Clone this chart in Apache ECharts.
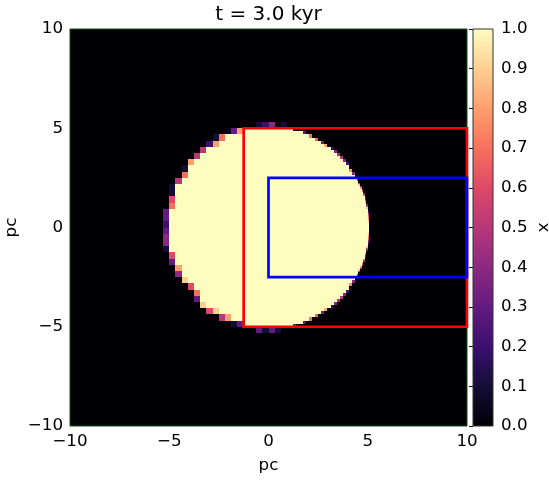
<!DOCTYPE html>
<html><head><meta charset="utf-8">
<script src="https://cdn.jsdelivr.net/npm/echarts@6/dist/echarts.min.js"></script>
<style>html,body{margin:0;padding:0;background:#fff}#c{width:549px;height:480px}</style>
</head><body><div id="c"></div>
<script>
// ---------- data ----------
const titleText = 't = 3.0 kyr';
const xName = 'pc', yName = 'pc', cbName = 'x';
const domain = [-10, 10];
const axisInterval = 5;
const cbInterval = 0.1;
const coarseCells = 64;                 // level-0 cells per side
const level1Box = [-1.25, 10, -5, 5];   // refined x2 (red box)
const level2Box = [0, 10, -2.5, 2.5];   // refined x4 (blue box)

// level-0 cells: one string per row (row 0 at y=+10), first char = column coarseFirstCol
// '.'=0, '0'=0.04, '1'..'9'=0.1..0.9, '#'=1
const coarseFirstRow = 15, coarseFirstCol = 15;
const coarseRows = [
  "...............12401",
  "..........038",
  "........17###",
  ".......28####",
  "......5######",
  ".....5#######",
  "....8########",
  "...1#########",
  "...7#########",
  "..5##########",
  ".1###########",
  ".1###########",
  ".6###########",
  ".7###########",
  "3############",
  "3############",
  "2############",
  "3############",
  "4############",
  "4############",
  "1############",
  ".6###########",
  ".3###########",
  "..8##########",
  "..4##########",
  "...9#########",
  "....6########",
  ".....7#######",
  ".....3#######",
  "......9######",
  ".......69####",
  ".........58##",
  "...........13",
  "...............3131"
];
// right edge (pc) of the x=1 region for each level-1 row (top to bottom)
const fine1Edge = [1.26,1.76,2.14,2.45,2.71,2.94,3.15,3.34,3.51,3.67,3.81,3.94,4.07,4.18,4.28,4.38,
  4.47,4.55,4.62,4.69,4.75,4.81,4.86,4.90,4.94,4.98,5.01,5.03,5.05,5.07,5.08,5.08,
  5.08,5.08,5.07,5.05,5.03,5.01,4.98,4.94,4.90,4.86,4.81,4.75,4.69,4.62,4.55,4.47,
  4.38,4.28,4.18,4.07,3.94,3.81,3.67,3.51,3.34,3.15,2.94,2.71,2.45,2.14,1.76,1.30];
// right edge (pc) for each level-2 row (top to bottom)
const fine2Edge = [4.45,4.49,4.53,4.57,4.60,4.64,4.67,4.71,4.74,4.77,4.80,4.82,4.85,4.87,4.89,4.91,
  4.93,4.95,4.97,4.99,5.00,5.01,5.03,5.04,5.05,5.06,5.06,5.07,5.07,5.08,5.08,5.08,
  5.08,5.08,5.08,5.07,5.07,5.06,5.06,5.05,5.04,5.03,5.01,5.00,4.99,4.97,4.95,4.93,
  4.91,4.89,4.87,4.85,4.82,4.80,4.77,4.74,4.71,4.67,4.64,4.60,4.57,4.53,4.49,4.45];
const boxes = [level1Box, level2Box];

// ---------- styles ----------
const magma = ['#000004','#140e36','#3b0f70','#641a80','#8c2981','#b73779','#de4968','#f7705c','#fe9f6d','#fecf92','#fcfdbf'];
const boxColors = ['#ff0000', '#0000ff'];
const FONT = 'DejaVu Sans';
const FS = 16.7;

// ---------- build cell runs ----------
const coarseDx = (domain[1] - domain[0]) / coarseCells;
function charVal(c) {
  if (c === '#') return 1;
  if (c === undefined || c === '.') return 0;
  if (c === '0') return 0.04;
  return (+c) / 10;
}
const runs = [];
function pushRun(x0, x1, y0, y1, v) {
  const last = runs[runs.length - 1];
  if (last && last[2] === y0 && last[3] === y1 && Math.abs(last[1] - x0) < 1e-9 && last[4] === v) last[1] = x1;
  else runs.push([x0, x1, y0, y1, v]);
}
function inside(b, x, y) { return x > b[0] && x < b[1] && y > b[2] && y < b[3]; }
for (let r = 0; r < coarseCells; r++) {
  const yTop = domain[1] - r * coarseDx, yBot = yTop - coarseDx;
  const str = coarseRows[r - coarseFirstRow] || '';
  for (let c = 0; c < coarseCells; c++) {
    const x0 = domain[0] + c * coarseDx, x1 = x0 + coarseDx;
    if (inside(level1Box, (x0 + x1) / 2, (yTop + yBot) / 2)) continue;
    pushRun(x0, x1, yBot, yTop, charVal(str[c - coarseFirstCol]));
  }
}
function fineLevel(box, dx, edges, child) {
  const nx = Math.round((box[1] - box[0]) / dx), ny = Math.round((box[3] - box[2]) / dx);
  for (let i = 0; i < ny; i++) {
    const yTop = box[3] - i * dx, yBot = yTop - dx, e = edges[i];
    for (let j = 0; j < nx; j++) {
      const x0 = box[0] + j * dx, x1 = x0 + dx;
      if (child && inside(child, (x0 + x1) / 2, (yTop + yBot) / 2)) continue;
      const v = x1 <= e ? 1 : (x0 >= e ? 0 : Math.round((e - x0) / dx * 100) / 100);
      pushRun(x0, x1, yBot, yTop, v);
    }
  }
}
fineLevel(level1Box, coarseDx / 2, fine1Edge, level2Box);
fineLevel(level2Box, coarseDx / 4, fine2Edge, null);

const fmt = v => (v < 0 ? '\u2212' + Math.abs(v) : String(v));
const chart = echarts.init(document.getElementById('c'), null, { renderer: 'canvas' });
chart.setOption({
  animation: false,
  backgroundColor: '#ffffff',
  graphic: [{
    type: 'text', x: 268.5, y: 15, z: 10,
    style: { text: titleText, font: '20px "DejaVu Sans"', fill: '#000', align: 'center', verticalAlign: 'middle' }
  }],
  grid: [
    { left: 70, top: 29, width: 397, height: 397, show: true, z: 5, borderColor: '#174f17', borderWidth: 1,
      backgroundColor: 'transparent', containLabel: false, outerBoundsMode: 'none' },
    { left: 473, top: 29, width: 20, height: 397, show: true, z: 5, borderColor: '#333', borderWidth: 1,
      backgroundColor: 'transparent', containLabel: false, outerBoundsMode: 'none' }
  ],
  xAxis: [
    { gridIndex: 0, type: 'value', min: domain[0], max: domain[1], interval: axisInterval,
      name: xName, nameLocation: 'middle', nameGap: 31, nameMoveOverlap: false,
      nameTextStyle: { fontFamily: FONT, fontSize: FS, color: '#000' },
      axisLine: { show: false }, axisTick: { show: false }, splitLine: { show: false },
      axisLabel: { formatter: fmt, fontFamily: FONT, fontSize: FS, color: '#000', margin: 7 } },
    { gridIndex: 1, type: 'value', min: 0, max: 1, show: false }
  ],
  yAxis: [
    { gridIndex: 0, type: 'value', min: domain[0], max: domain[1], interval: axisInterval,
      name: yName, nameLocation: 'middle', nameGap: 50, nameMoveOverlap: false,
      nameTextStyle: { fontFamily: FONT, fontSize: FS, color: '#000' },
      axisLine: { show: false }, axisTick: { show: false }, splitLine: { show: false },
      axisLabel: { formatter: fmt, fontFamily: FONT, fontSize: FS, color: '#000', margin: 7 } },
    { gridIndex: 1, type: 'value', min: 0, max: 1, interval: cbInterval, position: 'right',
      name: cbName, nameLocation: 'middle', nameGap: 42, nameRotate: -90, nameMoveOverlap: false,
      nameTextStyle: { fontFamily: FONT, fontSize: FS, color: '#000' },
      axisLine: { show: false }, splitLine: { show: false },
      axisTick: { show: true, inside: true, length: 4, lineStyle: { color: '#000', width: 1 } },
      axisLabel: { formatter: v => v.toFixed(1), fontFamily: FONT, fontSize: FS, color: '#000', margin: 8 } }
  ],
  visualMap: [{ show: false, type: 'continuous', min: 0, max: 1, dimension: 4, seriesIndex: 0, inRange: { color: magma } }],
  series: [
    { type: 'custom', xAxisIndex: 0, yAxisIndex: 0, data: runs, encode: { x: [0, 1], y: [2, 3] },
      renderItem: function (params, api) {
        const a = api.coord([api.value(0), api.value(3)]);
        const b = api.coord([api.value(1), api.value(2)]);
        const x = Math.round(a[0]), y = Math.round(a[1]);
        return { type: 'rect', shape: { x: x, y: y, width: Math.round(b[0]) - x, height: Math.round(b[1]) - y },
          style: { fill: api.visual('color') } };
      } },
    { type: 'custom', xAxisIndex: 0, yAxisIndex: 0, z: 6, clip: false,
      data: boxes.map((b, i) => [b[0], b[1], b[2], b[3], i]), encode: { x: [0, 1], y: [2, 3] },
      renderItem: function (params, api) {
        const a = api.coord([api.value(0), api.value(3)]);
        const b = api.coord([api.value(1), api.value(2)]);
        return { type: 'rect', shape: { x: a[0], y: a[1], width: b[0] - a[0], height: b[1] - a[1] },
          style: { fill: 'none', stroke: boxColors[api.value(4)], lineWidth: 2.7 } };
      } },
    { type: 'custom', xAxisIndex: 1, yAxisIndex: 1, data: [[0, 1, 0, 1]], encode: { x: [0, 1], y: [2, 3] },
      renderItem: function (params, api) {
        const a = api.coord([api.value(0), api.value(3)]);
        const b = api.coord([api.value(1), api.value(2)]);
        return { type: 'rect', shape: { x: a[0], y: a[1], width: b[0] - a[0], height: b[1] - a[1] },
          style: { fill: { type: 'linear', x: 0, y: 1, x2: 0, y2: 0,
            colorStops: magma.map((c, i) => ({ offset: i / (magma.length - 1), color: c })) } } };
      } }
  ]
});
</script></body></html>
